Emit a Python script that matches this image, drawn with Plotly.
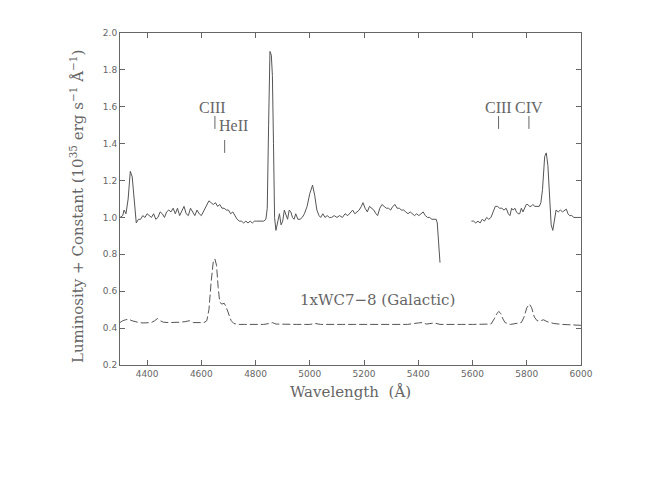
import plotly.graph_objects as go

# ---- data ----
wl_obs_1 = [4300, 4310, 4315, 4322, 4330, 4338, 4345, 4352, 4360, 4368, 4376, 4384, 4392, 4400, 4408, 4416,
            4424, 4432, 4440, 4448, 4456, 4464, 4472, 4480, 4488, 4496, 4504, 4512, 4520, 4528, 4536, 4544,
            4552, 4560, 4568, 4576, 4584, 4592, 4600, 4610, 4620, 4628, 4636, 4644, 4652, 4660, 4668, 4676,
            4684, 4692, 4700, 4708, 4716, 4724, 4732, 4740, 4748, 4756, 4764, 4772, 4780, 4788, 4796, 4804,
            4812, 4820, 4830, 4838, 4843, 4848, 4853, 4858, 4862, 4866, 4870, 4875, 4882, 4888, 4894, 4900,
            4906, 4912, 4918, 4924, 4930, 4936, 4942, 4948, 4956, 4964, 4972, 4980, 4990, 5000, 5010, 5018,
            5026, 5034, 5040, 5048, 5056, 5064, 5072, 5080, 5090, 5100, 5110, 5120, 5130, 5140, 5150, 5158,
            5166, 5174, 5182, 5190, 5196, 5204, 5212, 5220, 5228, 5236, 5244, 5250, 5258, 5266, 5274, 5282,
            5290, 5298, 5306, 5314, 5322, 5330, 5338, 5346, 5354, 5362, 5370, 5378, 5386, 5394, 5402, 5410,
            5418, 5426, 5434, 5442, 5450, 5458, 5466, 5470, 5475, 5480]
lum_obs_1 = [1.00, 1.01, 1.04, 1.02, 1.10, 1.25, 1.22, 1.08, 0.97, 0.99, 0.99, 1.01, 1.00, 1.02, 1.01, 1.00,
             1.02, 0.99, 1.00, 1.03, 1.02, 1.00, 1.03, 1.04, 1.03, 1.05, 1.02, 1.05, 1.01, 1.04, 1.06, 1.02,
             1.01, 1.05, 1.03, 1.01, 1.04, 1.02, 1.01, 1.04, 1.07, 1.09, 1.08, 1.07, 1.08, 1.06, 1.07, 1.05,
             1.05, 1.04, 1.04, 1.02, 1.03, 1.01, 0.99, 0.98, 0.98, 0.97, 0.98, 0.97, 0.98, 0.97, 0.98, 0.98,
             0.98, 0.98, 0.98, 0.99, 1.05, 1.50, 1.90, 1.88, 1.77, 1.40, 1.00, 0.93, 0.97, 1.02, 0.96, 0.98,
             1.04, 1.02, 0.99, 1.04, 1.03, 1.00, 0.99, 1.02, 0.99, 0.99, 1.00, 1.02, 1.06, 1.13, 1.175, 1.12,
             1.04, 1.01, 1.00, 1.02, 1.00, 1.01, 1.00, 1.00, 1.01, 1.00, 1.01, 1.00, 1.02, 1.01, 1.03, 1.04,
             1.02, 1.03, 1.04, 1.06, 1.08, 1.05, 1.03, 1.06, 1.05, 1.04, 1.02, 1.01, 1.05, 1.07, 1.06, 1.05,
             1.05, 1.04, 1.06, 1.07, 1.05, 1.05, 1.04, 1.04, 1.03, 1.02, 1.03, 1.02, 1.01, 1.02, 1.01, 1.02,
             1.03, 1.01, 1.00, 1.00, 0.99, 0.99, 0.99, 0.97, 0.85, 0.755]

wl_obs_2 = [5596, 5604, 5612, 5620, 5628, 5636, 5644, 5652, 5660, 5668, 5676, 5684, 5692, 5700, 5708, 5716,
            5724, 5732, 5738, 5744, 5750, 5756, 5762, 5768, 5774, 5780, 5786, 5792, 5798, 5804, 5810, 5816,
            5822, 5830, 5838, 5846, 5852, 5858, 5866, 5872, 5878, 5884, 5890, 5896, 5902, 5908, 5916, 5924,
            5932, 5940, 5946, 5952, 5958, 5966, 5974, 5984, 5992, 6000]
lum_obs_2 = [0.98, 0.98, 0.97, 0.98, 0.97, 0.99, 0.98, 1.00, 0.99, 1.00, 1.03, 1.06, 1.06, 1.05, 1.05, 1.04,
             1.05, 1.02, 1.01, 1.05, 1.04, 1.05, 1.03, 1.02, 1.02, 1.05, 1.03, 1.05, 1.07, 1.07, 1.06, 1.06,
             1.07, 1.06, 1.06, 1.06, 1.08, 1.15, 1.33, 1.35, 1.28, 1.08, 0.96, 0.93, 0.98, 1.04, 1.03, 1.04,
             1.03, 1.04, 1.045, 1.02, 1.01, 1.01, 1.00, 1.00, 1.00, 1.00]

wl_wc = [4300, 4310, 4320, 4332, 4344, 4356, 4370, 4385, 4400, 4415, 4428, 4438, 4448, 4460, 4480, 4500,
         4520, 4540, 4556, 4570, 4590, 4610, 4620, 4628, 4636, 4644, 4650, 4656, 4662, 4668, 4676, 4684,
         4690, 4700, 4710, 4720, 4735, 4760, 4780, 4800, 4830, 4850, 4862, 4875, 4900, 4950, 5000, 5020,
         5040, 5080, 5120, 5160, 5200, 5240, 5280, 5320, 5360, 5400, 5415, 5430, 5450, 5460, 5480, 5520,
         5560, 5600, 5640, 5668, 5680, 5690, 5697, 5704, 5712, 5720, 5740, 5760, 5780, 5790, 5800, 5810,
         5818, 5828, 5838, 5850, 5862, 5875, 5900, 5930, 5960, 6000]
lum_wc = [0.43, 0.44, 0.445, 0.448, 0.44, 0.435, 0.43, 0.428, 0.428, 0.43, 0.44, 0.452, 0.44, 0.432, 0.43, 0.43,
          0.432, 0.435, 0.44, 0.43, 0.428, 0.43, 0.44, 0.50, 0.65, 0.76, 0.775, 0.74, 0.62, 0.54, 0.53, 0.535,
          0.52, 0.48, 0.44, 0.425, 0.42, 0.42, 0.42, 0.422, 0.42, 0.425, 0.43, 0.422, 0.42, 0.42, 0.42, 0.425,
          0.42, 0.418, 0.42, 0.42, 0.42, 0.42, 0.418, 0.42, 0.42, 0.428, 0.43, 0.422, 0.425, 0.428, 0.42, 0.418,
          0.42, 0.42, 0.42, 0.422, 0.45, 0.48, 0.49, 0.48, 0.45, 0.43, 0.42, 0.425, 0.43, 0.46, 0.51, 0.53,
          0.51, 0.46, 0.44, 0.44, 0.445, 0.435, 0.425, 0.42, 0.418, 0.415]

# line identifications: (label, wavelength, tick bottom, tick top)
line_ids = ["CIII", "HeII", "CIII", "CIV"]
line_wl = [4650, 4686, 5696, 5808]
tick_lo = [1.48, 1.35, 1.48, 1.48]
tick_hi = [1.55, 1.42, 1.55, 1.55]

x_ticks = [4400, 4600, 4800, 5000, 5200, 5400, 5600, 5800, 6000]
y_ticks = [0.2, 0.4, 0.6, 0.8, 1.0, 1.2, 1.4, 1.6, 1.8, 2.0]

GRAY = "#666666"
LINE = "#555555"
SERIF = "DejaVu Serif"

fig = go.Figure()
fig.add_trace(go.Scatter(x=wl_obs_1 + [None] + wl_obs_2, y=lum_obs_1 + [None] + lum_obs_2,
                         mode="lines", line=dict(color=LINE, width=1), connectgaps=False,
                         showlegend=False, hoverinfo="skip"))
fig.add_trace(go.Scatter(x=wl_wc, y=lum_wc, mode="lines",
                         line=dict(color=LINE, width=1, dash="8px,3px"),
                         showlegend=False, hoverinfo="skip"))

for w, lo, hi in zip(line_wl, tick_lo, tick_hi):
    fig.add_shape(type="line", x0=w, x1=w, y0=lo, y1=hi, xref="x", yref="y",
                  line=dict(color=GRAY, width=1))

ann_font = dict(family=SERIF, size=15, color=GRAY)
id_font = dict(family="Liberation Serif", size=16, color=GRAY)
fig.add_annotation(x=4640, y=1.598, text=line_ids[0], showarrow=False, font=id_font,
                   xanchor="center", yanchor="middle")
fig.add_annotation(x=4658, y=1.497, text=line_ids[1], showarrow=False, font=id_font,
                   xanchor="left", yanchor="middle")
fig.add_annotation(x=line_wl[2], y=1.598, text=line_ids[2], showarrow=False, font=id_font,
                   xanchor="center", yanchor="middle")
fig.add_annotation(x=line_wl[3], y=1.598, text=line_ids[3], showarrow=False, font=id_font,
                   xanchor="center", yanchor="middle")
fig.add_annotation(x=5251, y=0.553, text="1xWC7\u22128 (Galactic)", showarrow=False, font=ann_font,
                   xanchor="center", yanchor="middle")

# axis titles
fig.add_annotation(xref="paper", yref="paper", x=0.5, y=0, yshift=-27, showarrow=False,
                   text="Wavelength\u00a0\u00a0(\u00c5)", font=ann_font, xanchor="center", yanchor="middle")
fig.add_annotation(xref="paper", yref="paper", x=0, y=0.5, xshift=-43, yshift=-8, showarrow=False,
                   textangle=-90,
                   text="Luminosity + Constant (10<sup>35</sup> erg s<sup>\u22121</sup> \u00c5<sup>\u22121</sup>)",
                   font=ann_font, xanchor="center", yanchor="middle")

axis_common = dict(showgrid=False, zeroline=False, showline=True, linecolor=GRAY, linewidth=1,
                   mirror="ticks", ticks="inside", ticklen=5, tickcolor=GRAY, tickwidth=1,
                   tickfont=dict(family="DejaVu Sans", size=9, color=GRAY))
fig.update_xaxes(range=[4300, 6000], tickvals=x_ticks, ticktext=[str(v) for v in x_ticks], **axis_common)
fig.update_yaxes(range=[0.2, 2.0], tickvals=y_ticks, ticktext=[f"{v:.1f}" for v in y_ticks], **axis_common)

fig.update_layout(width=645, height=498, margin=dict(l=112, r=72, t=25, b=141),
                  paper_bgcolor="white", plot_bgcolor="white")
fig.write_html("out.html")
